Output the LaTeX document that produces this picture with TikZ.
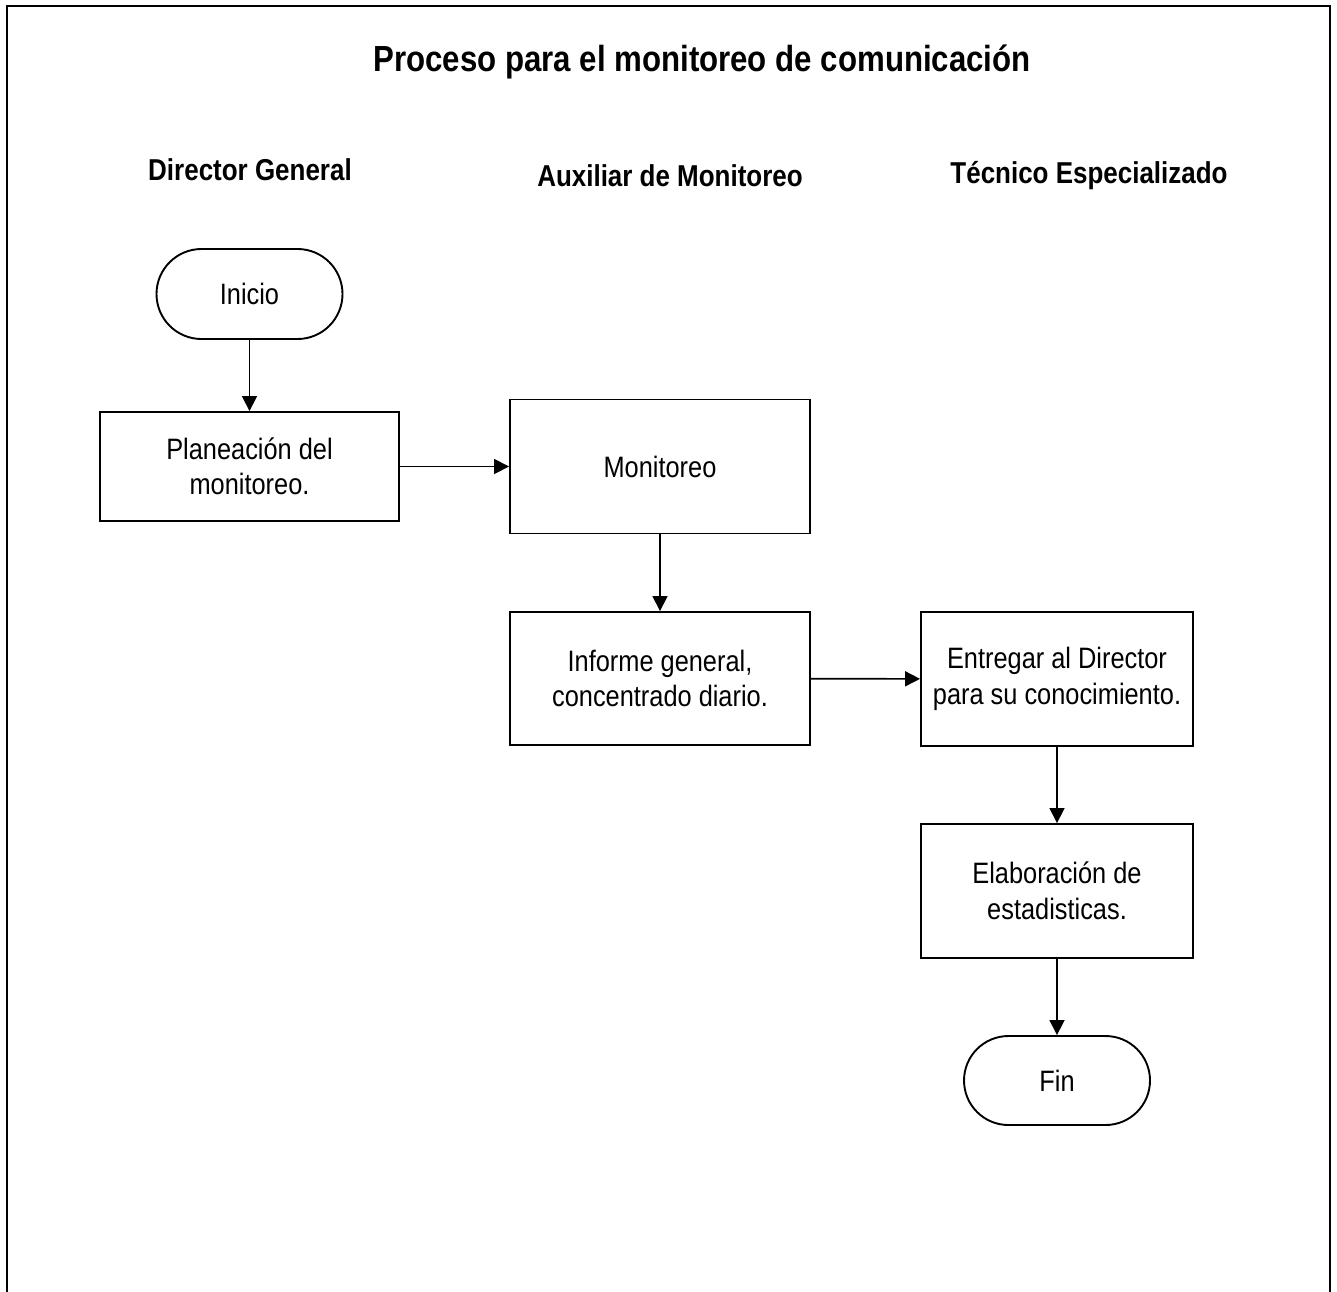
\documentclass[tikz,border=0pt]{standalone}
\usepackage{fontspec}
\setmainfont[FakeStretch=0.86]{Liberation Sans}
\usetikzlibrary{arrows.meta}
\tikzset{
  proc/.style={draw, line width=1.9pt, align=center, inner sep=0pt,
    font=\fontsize{29.5}{35.5}\selectfont},
  term/.style={draw, line width=1.9pt, align=center, inner sep=0pt,
    font=\fontsize{29.5}{35.5}\selectfont},
  flow/.style={line width=1.6pt, -{Triangle[length=15pt,width=15pt]}},
  lane/.style={font=\fontsize{30.2}{34}\selectfont\bfseries},
}
\begin{document}
\begin{tikzpicture}[x=1pt,y=-1pt]
\useasboundingbox (0,0) rectangle (1337,1291);
\draw[line width=2.4pt] (7,1292) -- (7,6) -- (1330,6) -- (1330,1292);
\node[font=\fontsize{36.3}{40}\selectfont\bfseries] (title) at (702,62) {Proceso para el monitoreo de comunicación};
\node[lane] (l1) at (250,170) {Director General};
\node[lane] (l2) at (670,176) {Auxiliar de Monitoreo};
\node[lane] (l3) at (1089,176) {Técnico Especializado};

\node[term, rounded corners=45pt, minimum width=186pt, minimum height=90pt] (ini) at (249.5,294) {Inicio};
\node[proc, minimum width=299pt, minimum height=109pt] (plan) at (249.5,466.5) {Planeación del\\monitoreo.};
\node[proc, minimum width=300pt, minimum height=134pt] (moni) at (660,466.5) {Monitoreo};
\node[proc, minimum width=300pt, minimum height=133pt] (inf) at (660,678.5) {Informe general,\\concentrado diario.};
\node[proc, minimum width=272pt, minimum height=134pt] (entr) at (1057,679) {Entregar al Director\\para su conocimiento.};
\node[proc, minimum width=272pt, minimum height=134pt] (elab) at (1057,891) {Elaboración de\\estadisticas.};
\node[term, rounded corners=44.5pt, minimum width=186pt, minimum height=89pt] (fin) at (1057,1080.5) {Fin};

\draw[flow] (ini) -- (plan);
\draw[flow] (plan) -- (moni);
\draw[flow] (moni) -- (inf);
\draw[flow] (inf) -- (entr);
\draw[flow] (entr) -- (elab);
\draw[flow] (elab) -- (fin);
\end{tikzpicture}
\end{document}
